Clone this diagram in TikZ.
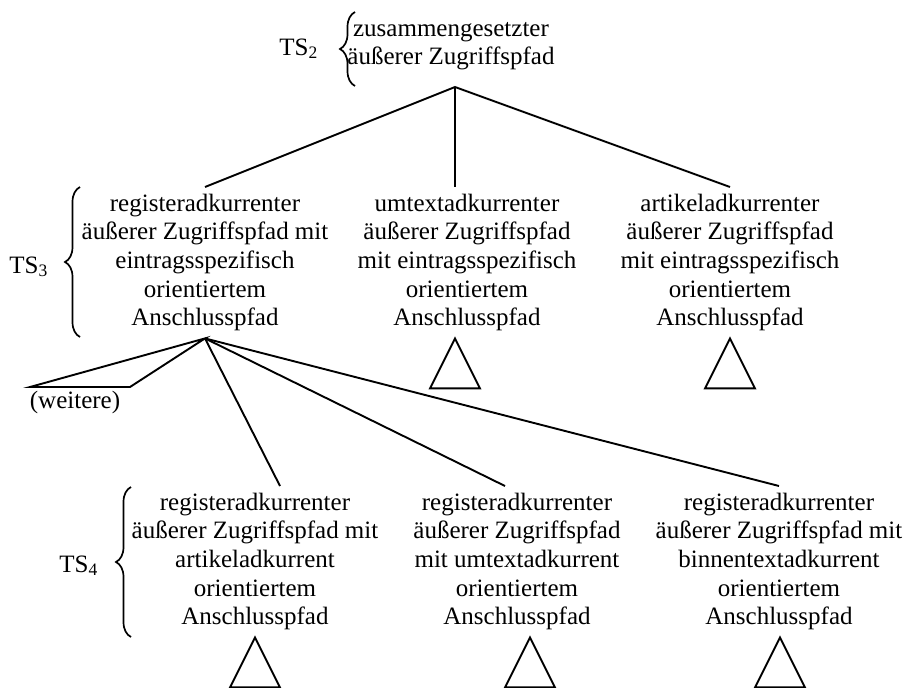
\documentclass[tikz,border=0pt]{standalone}
\usepackage{fontspec}
\setmainfont{Liberation Serif}[Ligatures=NoCommon]
\usetikzlibrary{decorations.pathreplacing}

\begin{document}
\begin{tikzpicture}[x=1pt,y=-1pt,
  every node/.style={font=\fontsize{25}{28.6}\selectfont},
  box/.style={align=center, inner xsep=0pt, inner ysep=4pt, anchor=north},
  tslabel/.style={anchor=base east, inner sep=0pt},
  edge/.style={line width=1.9pt},
  curly/.style={decorate, decoration={brace, amplitude=15pt}, line width=1.7pt},
  subtree/.pic={\draw[edge] (0,0) -- (25,50) -- (-25,50) -- cycle;}
]
\useasboundingbox (0,0) rectangle (906,688);

% root
\node[box] (root) at (451,12) {\strut zusammengesetzter\\äußerer Zugriffspfad\strut};
\coordinate (rt) at (455,87);

% second level
\node[box] (c1) at (205,187) {\strut registeradkurrenter\\äußerer Zugriffspfad mit\\eintragsspezifisch\\orientiertem\\Anschlusspfad\strut};
\node[box] (c2) at (467,187) {\strut umtextadkurrenter\\äußerer Zugriffspfad\\mit eintragsspezifisch\\orientiertem\\Anschlusspfad\strut};
\node[box] (c3) at (730,187) {\strut artikeladkurrenter\\äußerer Zugriffspfad\\mit eintragsspezifisch\\orientiertem\\Anschlusspfad\strut};

% third level
\node[box] (d1) at (255,486) {\strut registeradkurrenter\\äußerer Zugriffspfad mit\\artikeladkurrent\\orientiertem\\Anschlusspfad\strut};
\node[box] (d2) at (517,486) {\strut registeradkurrenter\\äußerer Zugriffspfad\\mit umtextadkurrent\\orientiertem\\Anschlusspfad\strut};
\node[box] (d3) at (779,486) {\strut registeradkurrenter\\äußerer Zugriffspfad mit\\binnentextadkurrent\\orientiertem\\Anschlusspfad\strut};

% connectors from the root
\draw[edge] (c1.north) -- (rt) -- (c3.north);
\draw[edge] (rt) -- (rt |- c2.north);

% connectors below the first second-level node
\draw[edge] (c1.south) -- ([xshift=25pt]d1.north);
\draw[edge] (c1.south) -- ([xshift=-12pt]d2.north);
\draw[edge] (c1.south) -- (d3.north);

% further branches
\coordinate (w1) at (30,387);
\coordinate (w2) at (130,387);
\draw[edge] (c1.south) -- (w1) -- (w2) -- cycle;
\node[anchor=base, inner sep=0pt] (weitere) at (75,408) {(weitere)};

% collapsed subtrees
\pic at ([xshift=-12pt]c2.south) {subtree};
\pic at (c3.south) {subtree};
\pic at (d1.south) {subtree};
\pic at ([xshift=13pt]d2.south) {subtree};
\pic at ([xshift=1pt]d3.south) {subtree};

% level braces and labels
\draw[curly] (355,86) -- (355,12);
\draw[curly] (80,337) -- (80,187);
\draw[curly] (131,637) -- (131,487);
\node[tslabel] (ts2) at (318,55) {TS\textsubscript{2}};
\node[tslabel] (ts3) at (48,273) {TS\textsubscript{3}};
\node[tslabel] (ts4) at (98,572) {TS\textsubscript{4}};
\end{tikzpicture}
\end{document}
